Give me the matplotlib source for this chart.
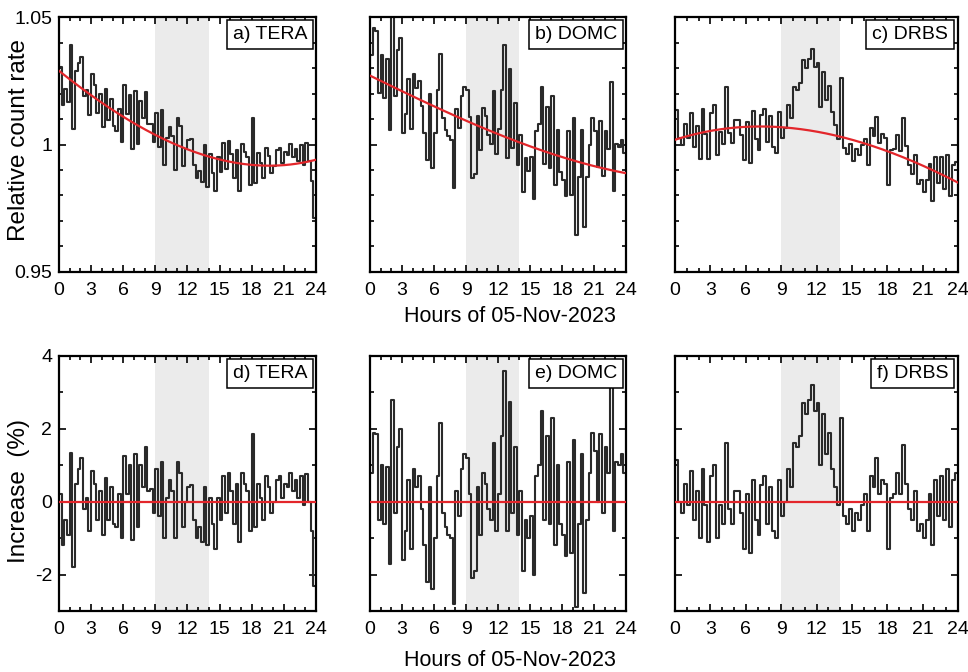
import numpy as np
import matplotlib.pyplot as plt
from matplotlib.ticker import MultipleLocator, FixedLocator

plt.rcParams['font.family'] = ['Liberation Sans', 'DejaVu Sans']
plt.rcParams['axes.unicode_minus'] = False

# 15-minute bins over the day
bin_start = np.arange(0, 24, 0.25)
bin_edges = np.arange(0, 24.25, 0.25)

# red fit curves (value at 0,3,...,24 h)
knot_hours = [0, 3, 6, 9, 12, 15, 18, 21, 24]
tera_fit_knots = [1.029, 1.019, 1.011, 1.004, 0.998, 0.994, 0.992, 0.992, 0.994]
domc_fit_knots = [1.027, 1.021, 1.015, 1.009, 1.004, 1.000, 0.995, 0.991, 0.989]
drbs_fit_knots = [1.002, 1.005, 1.007, 1.007, 1.005, 1.002, 0.997, 0.992, 0.985]

# increase (%) relative to the fit, 4 bins per hour
tera_inc = [0.2, -1.2, -0.5, -0.9, 1.35, -1.8, 0.5, 0.9,
            1.2, -0.2, 0.1, -0.8, 0.85, 0.5, -0.5, 0.3,
            -0.9, 0.65, -0.5, 0.4, -0.6, -0.7, 0.2, -1.0,
            1.25, 0.2, 1.0, -1.05, 1.3, -0.7, 1.0, 0.4,
            1.5, 0.3, 0.35, -0.3, 0.9, -0.4, 1.1, -1.0,
            0.1, 0.6, 0.3, -1.0, 1.1, 0.8, -0.7, 0.0,
            0.4, 0.45, -0.5, -1.0, -0.7, -1.1, 0.4, -1.2,
            0.1, -0.6, -1.3, 0.1, -0.5, 0.7, -0.3, 0.8,
            0.3, -0.6, 0.5, -1.1, 0.8, 0.5, 0.3, -0.8,
            1.85, -0.7, 0.5, 0.1, -0.5, 0.7, 0.4, -0.3,
            0.0, 0.6, 0.7, 0.1, 0.5, 0.4, 0.8, 0.3,
            0.6, 0.1, 0.7, -0.1, 0.75, 0.0, -0.8, -2.3]
domc_inc = [0.8, 1.9, 1.85, -0.5, 1.0, -0.6, 0.95, -1.7,
            2.8, -0.3, 1.5, 2.0, -1.6, -0.8, 0.6, -1.3,
            0.9, 0.4, 0.7, -0.2, -1.2, -2.2, 0.4, -2.4,
            -1.0, 0.7, 2.15, -0.3, -0.7, -0.9, -1.0, -2.8,
            0.3, -0.4, 0.9, 1.3, 1.2, 0.2, -2.1, -1.9,
            0.4, -0.9, 0.8, 0.5, -0.2, -0.5, 1.6, -0.8,
            0.2, 1.8, 3.6, -0.8, 2.75, -0.3, 1.5, -0.9,
            0.3, -1.9, -0.5, -1.0, -0.4, -2.0, 0.7, 1.0,
            2.5, -0.5, 1.8, -0.6, 2.3, -1.2, 1.0, -0.6,
            -0.9, -1.5, 1.1, -1.4, 1.7, -2.9, -0.6, 1.3,
            -2.5, -0.5, 0.8, 1.9, 1.4, 0.0, 1.85, -0.3,
            1.5, 0.8, 3.5, -0.8, 1.1, 1.0, 1.3, 0.8]
drbs_inc = [1.15, 0.0, -0.3, 0.5, -0.1, 0.85, -0.5, 0.3,
            -1.0, 0.9, -0.1, -1.1, 0.7, 1.0, -1.0, -0.1,
            -0.6, 1.6, -0.2, -0.6, 0.3, 0.3, -0.3, -1.3,
            0.2, -1.4, 0.6, -0.5, -0.9, 0.45, 0.7, -0.6,
            0.4, -0.8, -1.0, 0.6, -0.4, 0.0, 0.9, 0.4,
            1.6, 1.5, 1.8, 2.7, 2.4, 2.8, 3.2, 2.5,
            2.7, 1.0, 2.4, 1.3, 1.9, 0.9, 0.4, -0.1,
            2.3, -0.4, -0.6, -0.2, -0.8, -0.3, -0.5, -0.1,
            0.2, -0.8, 0.7, 0.4, 1.2, 0.2, 0.6, 0.5,
            -1.3, 0.1, 0.2, 0.8, 0.2, 1.55, 0.5, -0.2,
            -0.5, 0.3, -0.8, -0.6, -1.0, -0.5, 0.2, -1.2,
            0.6, -0.4, 0.7, -0.5, 0.9, -0.7, 0.6, 0.8]

stations = ['TERA', 'DOMC', 'DRBS']
fit_knots = [tera_fit_knots, domc_fit_knots, drbs_fit_knots]
increases = [tera_inc, domc_inc, drbs_inc]
top_tags = ['a)', 'b)', 'c)']
bottom_tags = ['d)', 'e)', 'f)']

# axes placement in pixels (left, width) of the 968x672 canvas
W, H = 968, 672
col_px = [(59, 257), (370, 256), (675, 283)]
top_row = (17, 272)
bot_row = (356, 611)

LINE = '#2a2a2a'
RED = '#e3262b'
SHADE = '#ebebeb'


def style_axis(ax, ylim, ymajor, yminor, show_ylabels):
    ax.set_xlim(0, 24)
    ax.set_ylim(*ylim)
    ax.xaxis.set_major_locator(MultipleLocator(3))
    ax.xaxis.set_minor_locator(MultipleLocator(1))
    ax.yaxis.set_major_locator(FixedLocator(ymajor))
    ax.yaxis.set_minor_locator(MultipleLocator(yminor))
    ax.tick_params(which='both', direction='in', top=True, right=True,
                   width=1.2, labelsize=14)
    ax.tick_params(which='major', length=5)
    ax.tick_params(which='minor', length=3)
    ax.tick_params(axis='x', pad=7)
    ax.tick_params(axis='y', pad=5)
    if not show_ylabels:
        ax.tick_params(axis='y', labelleft=False)
    for sp in ax.spines.values():
        sp.set_linewidth(1.6)


def rate_label(v, pos):
    return {0.95: '0.95', 1.0: '1', 1.05: '1.05'}.get(round(v, 2), '')


fig = plt.figure(figsize=(W / 100, H / 100), dpi=100)

for i, name in enumerate(stations):
    coef = np.polyfit(knot_hours, fit_knots[i], 3)
    inc = np.array(increases[i])
    centres = bin_start + 0.125
    rate = np.polyval(coef, centres) * (1 + inc / 100.0)
    left, width = col_px[i]

    # top row: relative count rate with fitted trend
    ax = fig.add_axes([left / W, 1 - top_row[1] / H, width / W,
                       (top_row[1] - top_row[0]) / H])
    ax.axvspan(9, 14, color=SHADE, lw=0, zorder=0)
    ax.step(bin_edges, np.append(rate, rate[-1]), where='post',
            color=LINE, lw=1.5, zorder=2)
    t_fine = np.linspace(0, 24, 300)
    ax.plot(t_fine, np.polyval(coef, t_fine), color=RED, lw=1.6, zorder=3)
    style_axis(ax, (0.95, 1.05), [0.95, 1.0, 1.05], 0.01, i == 0)
    ax.yaxis.set_major_formatter(plt.FuncFormatter(rate_label))
    ax.text(0.965, 0.965, f'{top_tags[i]} {name}', transform=ax.transAxes,
            ha='right', va='top', fontsize=14, zorder=5,
            bbox=dict(boxstyle='square,pad=0.3', fc='white', ec='black', lw=1.1))

    # bottom row: increase in percent
    ax2 = fig.add_axes([left / W, 1 - bot_row[1] / H, width / W,
                        (bot_row[1] - bot_row[0]) / H])
    ax2.axvspan(9, 14, color=SHADE, lw=0, zorder=0)
    ax2.step(bin_edges, np.append(inc, inc[-1]), where='post',
             color=LINE, lw=1.5, zorder=2)
    ax2.axhline(0, color=RED, lw=1.6, zorder=3)
    style_axis(ax2, (-3, 4), [-2, 0, 2, 4], 1, i == 0)
    ax2.text(0.965, 0.965, f'{bottom_tags[i]} {name}', transform=ax2.transAxes,
             ha='right', va='top', fontsize=14, zorder=5,
             bbox=dict(boxstyle='square,pad=0.3', fc='white', ec='black', lw=1.1))

fig.text(19 / W, 1 - 140 / H, 'Relative count rate', rotation=90,
         ha='center', va='center', fontsize=17.5)
fig.text(19 / W, 1 - 491 / H, 'Increase  (%)', rotation=90,
         ha='center', va='center', fontsize=17.5)
fig.text(510 / W, 1 - 317 / H, 'Hours of 05-Nov-2023', ha='center', va='center',
         fontsize=15.5)
fig.text(510 / W, 1 - 660 / H, 'Hours of 05-Nov-2023', ha='center', va='center',
         fontsize=15.5)

fig.savefig('out.png', dpi=100)
